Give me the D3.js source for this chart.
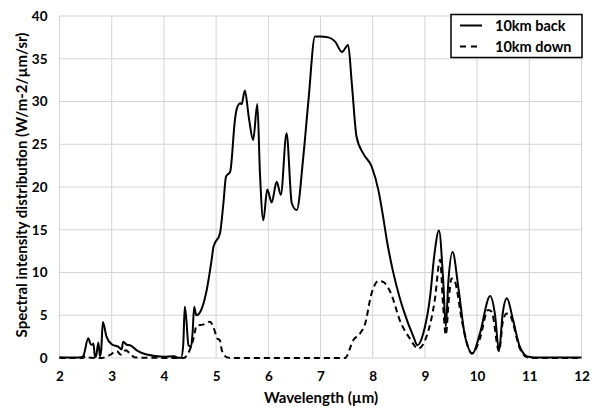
<!DOCTYPE html>
<html>
<head>
<meta charset="utf-8">
<script src="https://cdn.jsdelivr.net/npm/d3@7"></script>
<style>
  body { margin: 0; background: #fff; }
  text { font-family: Lato, "Open Sans", sans-serif; font-weight: bold; fill: #000; }
</style>
</head>
<body>
<svg id="chart" width="599" height="408"></svg>
<script>
// wavelength (µm) and intensity
const backWl = [2.0, 2.3, 2.42, 2.46, 2.55, 2.6, 2.63, 2.65, 2.68, 2.7, 2.745, 2.775, 2.8, 2.83, 2.9, 3.0, 3.13, 3.19, 3.22, 3.29, 3.35, 3.48, 3.67, 3.99, 4.2, 4.25, 4.33, 4.37, 4.40, 4.43, 4.47, 4.52, 4.55, 4.58, 4.62, 4.66, 4.82, 4.915, 4.95, 5.075, 5.14, 5.19, 5.27, 5.36, 5.39, 5.46, 5.49, 5.55, 5.63, 5.71, 5.79, 5.84, 5.905, 5.98, 6.065, 6.16, 6.24, 6.35, 6.45, 6.545, 6.67, 6.77, 6.895, 6.99, 7.15, 7.28, 7.41, 7.53, 7.6, 7.69, 7.82, 7.98, 8.11, 8.2, 8.27, 8.39, 8.52, 8.59, 8.78, 8.855, 8.97, 9.1, 9.18, 9.27, 9.35, 9.40, 9.45, 9.53, 9.64, 9.77, 9.915, 10.055, 10.25, 10.34, 10.42, 10.49, 10.57, 10.69, 10.82, 10.98, 11.2, 12.0];
const backVal = [0.1, 0.05, 0.1, 0.3, 2.3, 1.6, 1.55, 1.7, 0.1, 0.2, 1.8, 0.2, 1.0, 4.2, 2.5, 1.6, 1.3, 1.0, 1.9, 1.55, 1.5, 0.9, 0.4, 0.15, 0.2, 0.05, 0.02, 1.5, 6.0, 4.5, 1.5, 1.3, 3.0, 6.0, 5.0, 5.1, 7.95, 11.5, 13.0, 14.6, 18.1, 21.2, 21.8, 27.8, 29.0, 29.8, 29.7, 31.3, 28.0, 25.5, 29.7, 21.6, 16.1, 19.7, 18.2, 20.6, 19.1, 26.3, 18.1, 17.3, 23.5, 30.2, 37.6, 37.6, 37.5, 37.0, 35.8, 36.6, 32.1, 25.9, 23.9, 22.4, 19.6, 16.5, 13.8, 10.1, 7.0, 5.6, 2.5, 1.5, 2.9, 7.2, 12.0, 14.9, 9.1, 3.7, 9.0, 12.4, 8.3, 2.5, 0.55, 2.9, 7.25, 5.2, 0.85, 5.2, 7.0, 4.4, 1.3, 0.15, 0.05, 0.05];

const downWl = [2.0, 2.45, 2.5, 2.55, 2.8, 2.95, 3.1, 3.17, 3.27, 3.35, 3.45, 4.38, 4.45, 4.5, 4.56, 4.63, 4.75, 4.88, 4.95, 5.02, 5.07, 5.11, 5.2, 5.3, 7.47, 7.63, 7.76, 7.85, 7.98, 8.11, 8.2, 8.36, 8.52, 8.71, 8.87, 9.03, 9.19, 9.29, 9.35, 9.40, 9.46, 9.51, 9.57, 9.72, 9.9, 10.05, 10.21, 10.28, 10.42, 10.5, 10.57, 10.63, 10.82, 10.95, 11.1, 12.0];
const downVal = [0, 0, 0.2, 0.05, 0, 0.3, 0.8, 0.4, 0.9, 0.5, 0.05, 0, 0.4, 1.0, 2.1, 3.8, 3.9, 4.25, 3.6, 2.3, 2.1, 0.9, 0.1, 0, 0, 2.1, 2.9, 3.9, 7.6, 9.0, 8.9, 7.4, 4.4, 2.3, 1.1, 2.5, 6.8, 11.5, 6.0, 2.7, 7.0, 9.3, 9.0, 4.0, 0.5, 2.2, 5.6, 5.4, 0.8, 4.5, 5.2, 5.0, 1.1, 0.1, 0, 0];

const seriesNames = ["10km back", "10km down"];
const xTicks = [2, 3, 4, 5, 6, 7, 8, 9, 10, 11, 12];
const yTicks = [0, 5, 10, 15, 20, 25, 30, 35, 40];

const svg = d3.select("#chart");
const margin = { left: 59.5, right: 17.5, top: 16, bottom: 50 };
const W = 599, H = 408;

const x = d3.scaleLinear().domain([2, 12]).range([margin.left, W - margin.right]);
const y = d3.scaleLinear().domain([0, 40]).range([H - margin.bottom, margin.top]);

// grid
svg.append("g")
  .selectAll("line.v")
  .data(xTicks)
  .join("line")
  .attr("x1", d => x(d)).attr("x2", d => x(d))
  .attr("y1", y(0)).attr("y2", y(40))
  .attr("stroke", "#d4d4d4").attr("stroke-width", 1);

svg.append("g")
  .selectAll("line.h")
  .data(yTicks)
  .join("line")
  .attr("x1", x(2)).attr("x2", x(12))
  .attr("y1", d => y(d)).attr("y2", d => y(d))
  .attr("stroke", "#d4d4d4").attr("stroke-width", 1);

// axes (labels only, grid lines drawn above)
const xAxis = svg.append("g")
  .attr("transform", `translate(0,${y(0)})`)
  .call(d3.axisBottom(x).tickValues(xTicks).tickSize(0).tickPadding(13));
const yAxis = svg.append("g")
  .attr("transform", `translate(${x(2)},0)`)
  .call(d3.axisLeft(y).tickValues(yTicks).tickSize(0).tickPadding(12));
[xAxis, yAxis].forEach(a => {
  a.select(".domain").remove();
  a.selectAll("text").style("font-size", "13.5px").style("font-family", "Lato, sans-serif").style("font-weight", "bold");
});

// titles
svg.append("text")
  .attr("x", 321).attr("y", 403)
  .attr("text-anchor", "middle")
  .style("font-size", "15px")
  .text("Wavelength (µm)");

svg.append("text")
  .attr("transform", `translate(27,185) rotate(-90)`)
  .attr("text-anchor", "middle")
  .style("font-size", "15px")
  .text("Spectral intensity distribution (W/m-2/µm/sr)");

// lines
const line = d3.line()
  .x(d => x(d[0]))
  .y(d => y(d[1]))
  .curve(d3.curveMonotoneX);

const backData = d3.zip(backWl, backVal);
const downData = d3.zip(downWl, downVal);

svg.append("path")
  .datum(downData)
  .attr("d", line)
  .attr("fill", "none")
  .attr("stroke", "#000")
  .attr("stroke-width", 2)
  .attr("stroke-dasharray", "6,4");

svg.append("path")
  .datum(backData)
  .attr("d", line)
  .attr("fill", "none")
  .attr("stroke", "#000")
  .attr("stroke-width", 2);

// legend
const lg = svg.append("g");
lg.append("rect")
  .attr("x", 451).attr("y", 14.5)
  .attr("width", 131).attr("height", 43)
  .attr("fill", "#fff")
  .attr("stroke", "#000")
  .attr("stroke-width", 1.5);

seriesNames.forEach((name, i) => {
  const ly = 25.5 + i * 21;
  lg.append("line")
    .attr("x1", 460).attr("x2", 482)
    .attr("y1", ly).attr("y2", ly)
    .attr("stroke", "#000")
    .attr("stroke-width", 2)
    .attr("stroke-dasharray", i === 1 ? "6,5" : null);
  lg.append("text")
    .attr("x", 495).attr("y", ly)
    .attr("dy", "0.35em")
    .style("font-size", "14.5px")
    .text(name);
});
</script>
</body>
</html>
